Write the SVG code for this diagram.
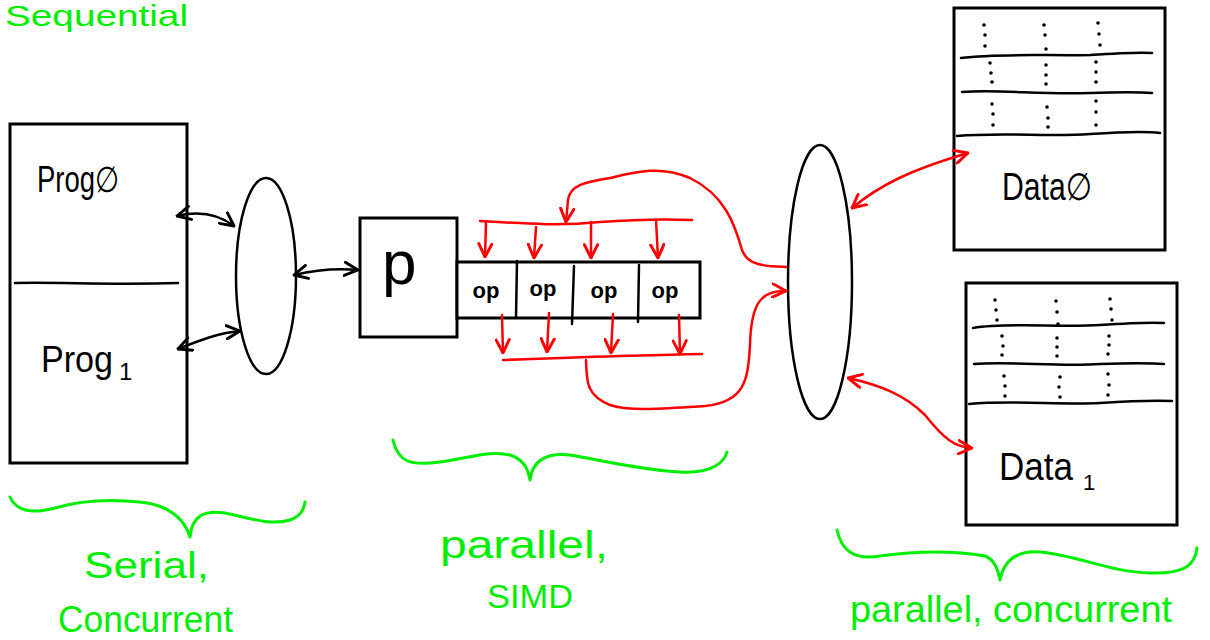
<svg xmlns="http://www.w3.org/2000/svg" width="1210" height="640" viewBox="0 0 1210 640">
<style>
.k{fill:none;stroke:#000;stroke-width:2.5;stroke-linecap:round;stroke-linejoin:round}
.kb{fill:#fff;stroke:#000;stroke-width:3}
.r{fill:none;stroke:#f00;stroke-width:2.5;stroke-linecap:round;stroke-linejoin:round}
.g{fill:none;stroke:#0e0;stroke-width:3;stroke-linecap:round;stroke-linejoin:round}
.t{font-family:"Liberation Sans","DejaVu Sans",sans-serif;fill:#000}
.gt{font-family:"Liberation Sans","DejaVu Sans",sans-serif;fill:#0e0}
.dot{fill:#000}
</style>
<defs>
<marker id="ak" viewBox="0 0 12 12" refX="11" refY="6" markerWidth="16" markerHeight="16" orient="auto-start-reverse" markerUnits="userSpaceOnUse"><path d="M1,1 L11,6 L1,11" fill="none" stroke="#000" stroke-width="2.2" stroke-linecap="round" stroke-linejoin="round"/></marker>
<marker id="ar" viewBox="0 0 12 12" refX="11" refY="6" markerWidth="16" markerHeight="16" orient="auto-start-reverse" markerUnits="userSpaceOnUse"><path d="M1,1 L11,6 L1,11" fill="none" stroke="#f00" stroke-width="2.2" stroke-linecap="round" stroke-linejoin="round"/></marker>
</defs>
<rect width="1210" height="640" fill="#fff"/>

<g id="programs">
<rect class="kb" x="10" y="124" width="177" height="339" stroke-width="2.5"/>
<path class="k" d="M15,283 C60,282 110,285 178,283"/>
<text class="t" x="37" y="192" font-size="36" textLength="82" lengthAdjust="spacingAndGlyphs">Prog∅</text>
<text class="t" x="41" y="372" font-size="36" textLength="72" lengthAdjust="spacingAndGlyphs">Prog</text>
<text class="t" x="119" y="380" font-size="24">1</text>
</g>

<g id="switch1">
<ellipse class="k" cx="266" cy="276" rx="30" ry="98"/>
</g>

<g id="processor">
<rect class="kb" x="360" y="218" width="97" height="119"/>
<text class="t" x="382" y="284" font-size="62">p</text>
</g>

<g id="ops">
<rect class="kb" x="457" y="262" width="243" height="56" stroke-width="2.5"/>
<path class="k" d="M517,261 L516,318 M574,266 L572,324 M639,265 L638,322"/>
<text class="t" x="486" y="298" font-size="22" font-weight="bold" text-anchor="middle">op</text>
<text class="t" x="543" y="296" font-size="22" font-weight="bold" text-anchor="middle">op</text>
<text class="t" x="604" y="298" font-size="22" font-weight="bold" text-anchor="middle">op</text>
<text class="t" x="665" y="298" font-size="22" font-weight="bold" text-anchor="middle">op</text>
</g>

<g id="switch2">
<ellipse class="k" cx="820" cy="282" rx="32" ry="137"/>
</g>

<g id="data0">
<rect class="kb" x="954" y="8" width="211" height="242" stroke-width="2.5"/>
<path class="k" d="M961,58 C1000,53 1050,56 1090,55 C1120,53 1140,52 1152,53 M962,92 C1000,89 1040,95 1090,93 C1120,92 1140,92 1152,93 M957,136 C1000,132 1050,137 1090,134 C1120,132 1145,131 1160,133"/>
<g class="dot">
<circle cx="984" cy="25" r="1.8"/><circle cx="985" cy="35" r="1.8"/><circle cx="985" cy="46" r="1.8"/>
<circle cx="1044" cy="25" r="1.8"/><circle cx="1045" cy="35" r="1.8"/><circle cx="1046" cy="49" r="1.8"/>
<circle cx="1098" cy="23" r="1.8"/><circle cx="1099" cy="34" r="1.8"/><circle cx="1100" cy="45" r="1.8"/>
<circle cx="990" cy="63" r="1.8"/><circle cx="991" cy="73" r="1.8"/><circle cx="992" cy="82" r="1.8"/>
<circle cx="1046" cy="65" r="1.8"/><circle cx="1046" cy="75" r="1.8"/><circle cx="1046" cy="84" r="1.8"/>
<circle cx="1096" cy="62" r="1.8"/><circle cx="1096" cy="72" r="1.8"/><circle cx="1096" cy="82" r="1.8"/>
<circle cx="992" cy="104" r="1.8"/><circle cx="993" cy="114" r="1.8"/><circle cx="993" cy="125" r="1.8"/>
<circle cx="1047" cy="107" r="1.8"/><circle cx="1048" cy="118" r="1.8"/><circle cx="1048" cy="127" r="1.8"/>
<circle cx="1096" cy="101" r="1.8"/><circle cx="1096" cy="112" r="1.8"/><circle cx="1096" cy="125" r="1.8"/>
</g>
<text class="t" x="1002" y="200" font-size="38" textLength="90" lengthAdjust="spacingAndGlyphs">Data∅</text>
</g>

<g id="data1">
<rect class="kb" x="966" y="283" width="211" height="242" stroke-width="2.5"/>
<path class="k" d="M973,328 C1010,322 1060,328 1100,325 C1130,323 1150,322 1164,323 M974,364 C1010,361 1060,367 1100,364 C1130,363 1150,363 1164,364 M969,404 C1010,400 1060,405 1100,403 C1130,401 1155,400 1172,401"/>
<g class="dot">
<circle cx="995" cy="300" r="1.8"/><circle cx="996" cy="310" r="1.8"/><circle cx="997" cy="320" r="1.8"/>
<circle cx="1056" cy="301" r="1.8"/><circle cx="1057" cy="312" r="1.8"/><circle cx="1058" cy="324" r="1.8"/>
<circle cx="1110" cy="299" r="1.8"/><circle cx="1111" cy="309" r="1.8"/><circle cx="1112" cy="320" r="1.8"/>
<circle cx="1002" cy="336" r="1.8"/><circle cx="1003" cy="346" r="1.8"/><circle cx="1002" cy="355" r="1.8"/>
<circle cx="1057" cy="338" r="1.8"/><circle cx="1057" cy="347" r="1.8"/><circle cx="1057" cy="356" r="1.8"/>
<circle cx="1109" cy="336" r="1.8"/><circle cx="1109" cy="345" r="1.8"/><circle cx="1108" cy="354" r="1.8"/>
<circle cx="1004" cy="376" r="1.8"/><circle cx="1005" cy="386" r="1.8"/><circle cx="1005" cy="396" r="1.8"/>
<circle cx="1060" cy="377" r="1.8"/><circle cx="1059" cy="387" r="1.8"/><circle cx="1060" cy="397" r="1.8"/>
<circle cx="1108" cy="374" r="1.8"/><circle cx="1109" cy="385" r="1.8"/><circle cx="1108" cy="395" r="1.8"/>
</g>
<text class="t" x="999" y="480" font-size="38" textLength="74" lengthAdjust="spacingAndGlyphs">Data</text>
<text class="t" x="1083" y="490" font-size="22">1</text>
</g>

<g id="connectors">
<path class="k" d="M177,216 C198,211 218,214 234,226" marker-start="url(#ak)" marker-end="url(#ak)"/>
<path class="k" d="M178,349 C198,341 218,333 240,331" marker-start="url(#ak)" marker-end="url(#ak)"/>
<path class="k" d="M294,275 C315,270 335,268 358,270" marker-start="url(#ak)" marker-end="url(#ak)"/>

<path class="r" d="M480,221 C530,224 560,226 600,222 C640,219 670,219 692,220"/>
<path class="r" d="M486,222 L485,257" marker-end="url(#ar)"/>
<path class="r" d="M536,227 L534,258" marker-end="url(#ar)"/>
<path class="r" d="M591,222 L591,258" marker-end="url(#ar)"/>
<path class="r" d="M656,220 L658,258" marker-end="url(#ar)"/>
<path class="r" d="M786,267 C765,266 748,266 742,250 C735,225 725,195 690,178 C660,165 635,172 610,178 C585,182 570,185 568,200 L566,222" marker-end="url(#ar)"/>

<path class="r" d="M502,315 L503,353" marker-end="url(#ar)"/>
<path class="r" d="M549,313 L547,352" marker-end="url(#ar)"/>
<path class="r" d="M613,314 L611,353" marker-end="url(#ar)"/>
<path class="r" d="M679,315 L680,354" marker-end="url(#ar)"/>
<path class="r" d="M503,360 C560,358 640,355 702,354"/>
<path class="r" d="M586,360 C587,380 585,395 610,405 C630,412 670,408 705,406 C745,402 748,380 750,345 C751,305 760,290 786,291" marker-end="url(#ar)"/>

<path class="r" d="M852,208 C880,185 910,170 968,153" marker-start="url(#ar)" marker-end="url(#ar)"/>
<path class="r" d="M848,378 C880,385 905,395 925,415 C945,440 955,447 972,448" marker-start="url(#ar)" marker-end="url(#ar)"/>
</g>

<g id="annotations">
<text class="gt" x="5" y="26" font-size="30" textLength="183" lengthAdjust="spacingAndGlyphs">Sequential</text>
<path class="g" d="M10,497 C18,515 40,512 55,508 C75,502 100,498 140,502 C170,505 185,520 190,537 C192,515 205,510 225,513 C250,518 270,526 290,520 C302,516 304,508 305,502"/>
<text class="gt" x="84" y="578" font-size="36" textLength="125" lengthAdjust="spacingAndGlyphs">Serial,</text>
<text class="gt" x="58" y="632" font-size="36" textLength="175" lengthAdjust="spacingAndGlyphs">Concurrent</text>

<path class="g" d="M393,440 C398,462 410,466 440,462 C470,458 490,450 510,455 C525,460 528,470 530,480 C532,462 545,452 570,455 C600,460 640,470 680,472 C715,474 725,460 727,452"/>
<text class="gt" x="440" y="558" font-size="38" textLength="168" lengthAdjust="spacingAndGlyphs">parallel,</text>
<text class="gt" x="487" y="608" font-size="34" textLength="86" lengthAdjust="spacingAndGlyphs">SIMD</text>

<path class="g" d="M837,530 C842,552 855,560 880,556 C910,552 950,550 985,556 C995,560 998,570 1000,580 C1003,565 1012,550 1040,552 C1080,556 1110,572 1150,573 C1185,574 1195,565 1197,548"/>
<text class="gt" x="850" y="622" font-size="36" textLength="322" lengthAdjust="spacingAndGlyphs">parallel, concurrent</text>
</g>
</svg>
